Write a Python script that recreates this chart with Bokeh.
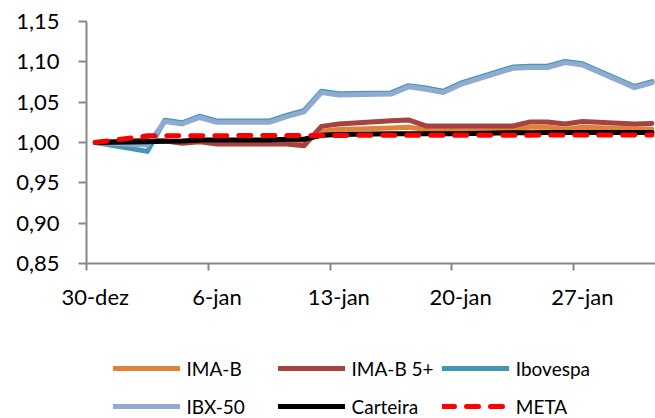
from bokeh.plotting import figure
from bokeh.layouts import column
from bokeh.models import Range1d, FixedTicker, CustomJSTickFormatter, Legend, LegendItem
from bokeh.embed import file_html
from bokeh.resources import INLINE
import pandas as pd

# ---- data ----
dates = ["2022-12-30", "2023-01-02", "2023-01-03", "2023-01-04", "2023-01-05", "2023-01-06",
         "2023-01-09", "2023-01-10", "2023-01-11", "2023-01-12", "2023-01-13",
         "2023-01-16", "2023-01-17", "2023-01-18", "2023-01-19", "2023-01-20",
         "2023-01-23", "2023-01-24", "2023-01-25", "2023-01-26", "2023-01-27",
         "2023-01-30", "2023-01-31"]

ima_b = [1.000, 1.002, 1.002, 1.000, 1.002, 1.000, 1.000, 1.001, 0.999, 1.014, 1.016,
         1.018, 1.019, 1.016, 1.016, 1.016, 1.016, 1.019, 1.019, 1.0165, 1.019, 1.017, 1.0165]
ima_b5 = [1.000, 1.003, 1.002, 0.999, 1.001, 0.998, 0.998, 0.998, 0.996, 1.020, 1.023,
          1.027, 1.028, 1.0205, 1.0205, 1.0205, 1.0205, 1.0255, 1.0255, 1.023, 1.026, 1.023, 1.0235]
ibovespa = [1.000, 0.989, 1.0275, 1.0245, 1.0325, 1.0265, 1.0265, 1.0335, 1.0395, 1.0635, 1.0605,
            1.0615, 1.0705, 1.0675, 1.0635, 1.0735, 1.0935, 1.0945, 1.0945, 1.1005, 1.0975, 1.0695, 1.0755]
ibx50 = [1.000, 0.997, 1.026, 1.023, 1.031, 1.025, 1.025, 1.032, 1.038, 1.062, 1.059,
         1.060, 1.069, 1.066, 1.062, 1.072, 1.092, 1.093, 1.093, 1.099, 1.096, 1.068, 1.074]
carteira = [1.000, 1.001, 1.0015, 1.002, 1.003, 1.003, 1.003, 1.004, 1.004, 1.009, 1.010,
            1.011, 1.011, 1.011, 1.011, 1.011, 1.012, 1.012, 1.0125, 1.0125, 1.0125, 1.0125, 1.0125]
meta = [1.000, 1.0083, 1.0083, 1.0084, 1.0084, 1.0085, 1.0086, 1.0086, 1.0087, 1.0088, 1.0088,
        1.0089, 1.0089, 1.009, 1.009, 1.009, 1.0091, 1.0091, 1.0092, 1.0092, 1.0093, 1.0093, 1.0094]

x_tick_days = [0, 7, 14, 21, 28]
x_tick_labels = ["30-dez", "6-jan", "13-jan", "20-jan", "27-jan"]
y_ticks = [0.85, 0.90, 0.95, 1.00, 1.05, 1.10, 1.15]
y_tick_labels = ["0,85", "0,90", "0,95", "1,00", "1,05", "1,10", "1,15"]

series_names = ["IMA-B", "IMA-B 5+", "Ibovespa", "IBX-50", "Carteira", "META"]
series_values = [ima_b, ima_b5, ibovespa, ibx50, carteira, meta]
series_colors = ["#E0823A", "#A6423F", "#4198B0", "#90AAD2", "#000000", "#FF0000"]

# ---- chart ----
dt = pd.to_datetime(dates)
days = [(d - dt[0]).days for d in dt]

FONT = "Lato"
FS = "22px"
LEG_FS = "19px"
GRAY = "#878787"
W = 655
LEFT = 86

p = figure(width=W, height=318, output_backend="svg", toolbar_location=None,
           x_range=Range1d(-0.5, 32.2), y_range=Range1d(0.85, 1.15),
           min_border_left=LEFT, min_border_right=0, min_border_top=21, min_border_bottom=55,
           title=None)
p.xgrid.visible = False
p.ygrid.visible = False
p.outline_line_color = None
p.background_fill_color = "white"
p.border_fill_color = "white"


def style_kw(name, col):
    kw = dict(line_color=col, line_width=5, line_cap="round", line_join="round")
    if name == "META":
        kw["line_dash"] = "12 12"
    return kw


for name, vals, col in zip(series_names, series_values, series_colors):
    p.line(days, vals, **style_kw(name, col))

# y axis
yax = p.yaxis[0]
yax.ticker = FixedTicker(ticks=y_ticks)
yax.formatter = CustomJSTickFormatter(args=dict(vals=y_ticks, labels=y_tick_labels), code="""
    for (let i = 0; i < vals.length; i++) { if (Math.abs(vals[i] - tick) < 1e-9) return labels[i]; }
    return '';
""")
yax.axis_line_color = GRAY
yax.axis_line_width = 2
yax.major_tick_line_color = GRAY
yax.major_tick_line_width = 2
yax.major_tick_out = 8
yax.major_tick_in = 0
yax.minor_tick_line_color = None
yax.major_label_standoff = 19
yax.major_label_text_font = FONT
yax.major_label_text_font_size = FS
yax.major_label_text_color = "black"

# x axis
xax = p.xaxis[0]
xax.ticker = FixedTicker(ticks=x_tick_days, minor_ticks=[d - 0.5 for d in x_tick_days])
xax.major_label_overrides = dict(zip(x_tick_days, x_tick_labels))
xax.axis_line_color = GRAY
xax.axis_line_width = 2
xax.major_tick_line_color = None
xax.major_tick_out = 0
xax.major_tick_in = 0
xax.minor_tick_line_color = GRAY
xax.minor_tick_line_width = 2
xax.minor_tick_out = 7
xax.minor_tick_in = 0
xax.major_label_standoff = 12
xax.major_label_text_font = FONT
xax.major_label_text_font_size = FS
xax.major_label_text_color = "black"

# ---- legend panel (2 rows x 3 columns) ----
lg = figure(width=W, height=100, output_backend="svg", toolbar_location=None,
            x_range=Range1d(0, 1), y_range=Range1d(0, 1),
            x_axis_location=None, y_axis_location=None,
            min_border_left=LEFT, min_border_right=0, min_border_top=0, min_border_bottom=0,
            title=None)
lg.xgrid.visible = False
lg.ygrid.visible = False
lg.outline_line_color = None

nan = float("nan")
col_x = [26.5, 191.5, 355.8]
row_y = [38, 0]
for i, (name, col) in enumerate(zip(series_names, series_colors)):
    r = lg.line([nan, nan], [nan, nan], **style_kw(name, col))
    row, colm = divmod(i, 3)
    leg = Legend(items=[LegendItem(label=name, renderers=[r])],
                 location=(col_x[colm], row_y[row]), orientation="horizontal",
                 glyph_width=67, glyph_height=24, label_height=24, label_standoff=7,
                 padding=0, margin=0, spacing=0, border_line_color=None,
                 background_fill_alpha=0, label_text_font=FONT,
                 label_text_font_size=LEG_FS, label_text_color="black")
    lg.add_layout(leg)

layout = column(p, lg, spacing=0)
open("out.html", "w").write(file_html(layout, INLINE))
